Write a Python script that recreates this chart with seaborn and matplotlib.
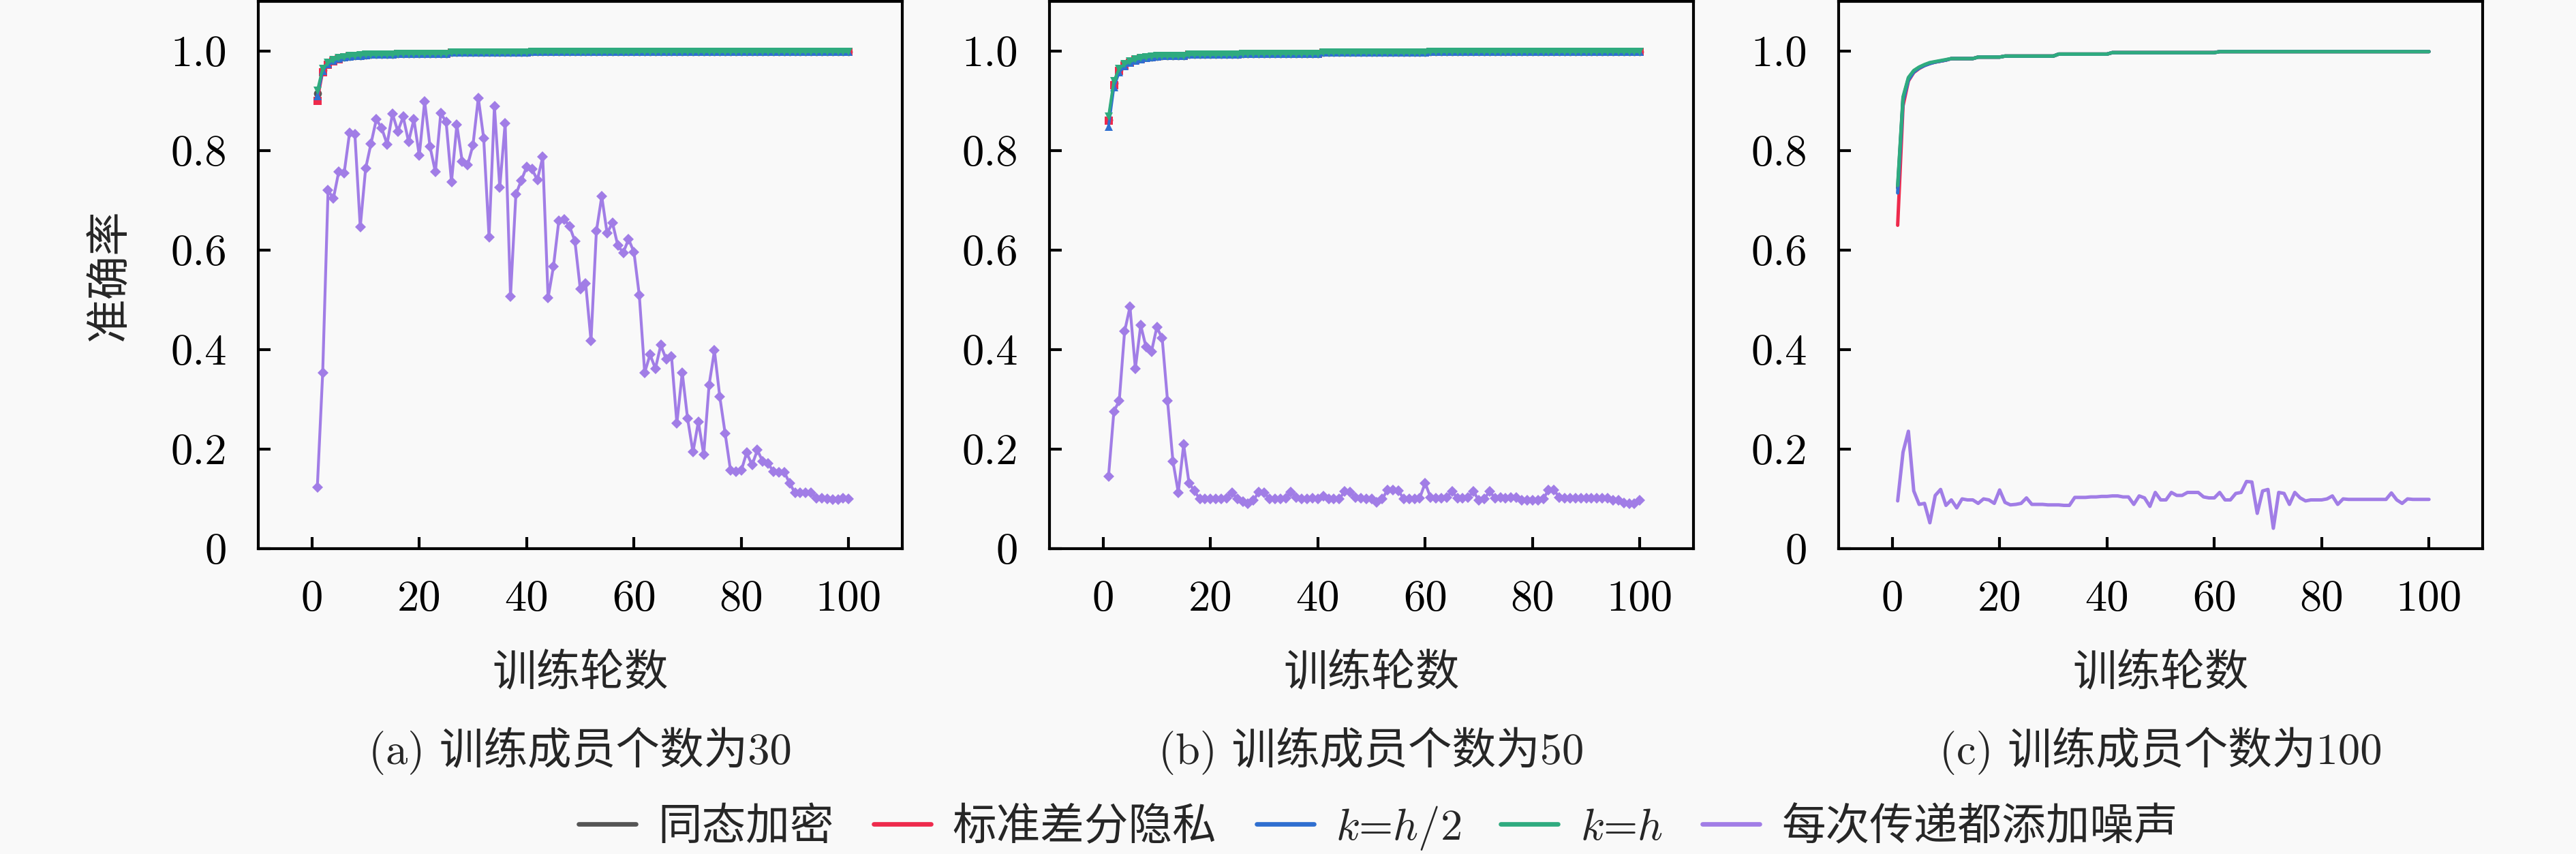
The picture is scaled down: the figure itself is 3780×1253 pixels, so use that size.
import numpy as np
import pandas as pd
import seaborn as sns
import matplotlib.pyplot as plt
from matplotlib.lines import Line2D


epochs = list(range(1, 101))

methods = ["同态加密", "标准差分隐私", r"$k$=$h/2$", r"$k$=$h$", "每次传递都添加噪声"]
colors = ["#555555", "#ee2a4c", "#2f6fd0", "#2fab7f", "#a17de6"]
markers = ["o", "s", "^", "v", "D"]

subtitles = ["(a) 训练成员个数为30", "(b) 训练成员个数为50", "(c) 训练成员个数为100"]
xticks = [0, 20, 40, 60, 80, 100]
yticks = [0, 0.2, 0.4, 0.6, 0.8, 1.0]
ytick_labels = ["0", "0.2", "0.4", "0.6", "0.8", "1.0"]

# 30 members
tail_a = [0.993] * 5 + [0.995] * 10 + [0.997] * 15 + [0.998] * 20 + [0.999] * 40
he_a = [0.915, 0.962, 0.975, 0.981, 0.985, 0.987, 0.989, 0.990, 0.991, 0.992] + tail_a
dp_a = [0.900, 0.958, 0.973, 0.980, 0.984, 0.987, 0.989, 0.990, 0.991, 0.992] + tail_a
kh_a = [0.910, 0.960, 0.974, 0.981, 0.985, 0.987, 0.989, 0.990, 0.991, 0.992] + tail_a
kf_a = [0.920, 0.965, 0.977, 0.982, 0.986, 0.988, 0.990, 0.991, 0.992, 0.993] + tail_a
noise_a = [0.123, 0.353, 0.720, 0.704, 0.758, 0.755, 0.835, 0.833, 0.646, 0.764,
           0.814, 0.863, 0.845, 0.813, 0.874, 0.839, 0.868, 0.818, 0.863, 0.790,
           0.899, 0.808, 0.757, 0.875, 0.858, 0.737, 0.852, 0.778, 0.771, 0.811,
           0.906, 0.825, 0.626, 0.889, 0.726, 0.855, 0.507, 0.712, 0.740, 0.767,
           0.763, 0.741, 0.787, 0.504, 0.567, 0.659, 0.662, 0.648, 0.618, 0.522,
           0.533, 0.418, 0.638, 0.708, 0.634, 0.655, 0.609, 0.595, 0.622, 0.596,
           0.509, 0.354, 0.390, 0.362, 0.409, 0.381, 0.386, 0.252, 0.354, 0.261,
           0.194, 0.255, 0.189, 0.329, 0.398, 0.305, 0.231, 0.157, 0.155, 0.157,
           0.193, 0.168, 0.198, 0.175, 0.171, 0.155, 0.154, 0.154, 0.132, 0.112,
           0.112, 0.112, 0.113, 0.101, 0.101, 0.100, 0.098, 0.099, 0.102, 0.100]

# 50 members
tail_b = [0.990] * 5 + [0.993] * 10 + [0.995] * 15 + [0.997] * 20 + [0.999] * 40
he_b = [0.862, 0.935, 0.962, 0.972, 0.978, 0.982, 0.985, 0.987, 0.988, 0.989] + tail_b
dp_b = [0.860, 0.932, 0.960, 0.971, 0.977, 0.982, 0.985, 0.987, 0.988, 0.989] + tail_b
kh_b = [0.848, 0.928, 0.958, 0.970, 0.977, 0.981, 0.984, 0.986, 0.988, 0.989] + tail_b
kf_b = [0.868, 0.940, 0.965, 0.974, 0.979, 0.983, 0.986, 0.988, 0.989, 0.990] + tail_b
noise_b = [0.145, 0.276, 0.297, 0.437, 0.486, 0.362, 0.449, 0.405, 0.396, 0.445,
           0.423, 0.297, 0.176, 0.113, 0.209, 0.132, 0.116, 0.100, 0.100, 0.100,
           0.100, 0.100, 0.102, 0.113, 0.100, 0.095, 0.090, 0.097, 0.114, 0.113,
           0.100, 0.100, 0.100, 0.102, 0.114, 0.103, 0.100, 0.100, 0.102, 0.100,
           0.105, 0.100, 0.100, 0.100, 0.115, 0.114, 0.103, 0.102, 0.100, 0.100,
           0.093, 0.100, 0.118, 0.118, 0.117, 0.100, 0.100, 0.100, 0.102, 0.132,
           0.103, 0.102, 0.102, 0.103, 0.115, 0.102, 0.102, 0.103, 0.115, 0.097,
           0.100, 0.115, 0.102, 0.103, 0.102, 0.103, 0.103, 0.097, 0.097, 0.097,
           0.097, 0.100, 0.118, 0.118, 0.103, 0.102, 0.102, 0.102, 0.102, 0.102,
           0.102, 0.102, 0.102, 0.102, 0.097, 0.097, 0.092, 0.090, 0.090, 0.097]

# 100 members
tail_c = [0.985] * 5 + [0.988] * 5 + [0.990] * 10 + [0.994] * 10 + [0.997] * 20 + [0.999] * 40
he_c = [0.725, 0.905, 0.945, 0.960, 0.967, 0.972, 0.976, 0.978, 0.980, 0.982] + tail_c
dp_c = [0.650, 0.890, 0.940, 0.957, 0.965, 0.971, 0.975, 0.978, 0.980, 0.982] + tail_c
kh_c = [0.715, 0.900, 0.942, 0.958, 0.966, 0.971, 0.975, 0.978, 0.980, 0.982] + tail_c
kf_c = [0.730, 0.908, 0.947, 0.961, 0.968, 0.973, 0.977, 0.979, 0.981, 0.983] + tail_c
noise_c = [0.096, 0.194, 0.236, 0.116, 0.089, 0.091, 0.052, 0.107, 0.119, 0.087,
           0.098, 0.082, 0.100, 0.098, 0.098, 0.091, 0.100, 0.098, 0.091, 0.118,
           0.093, 0.088, 0.089, 0.091, 0.102, 0.089, 0.089, 0.089, 0.088, 0.088,
           0.088, 0.087, 0.087, 0.103, 0.103, 0.103, 0.104, 0.104, 0.105, 0.105,
           0.106, 0.106, 0.104, 0.104, 0.089, 0.106, 0.102, 0.085, 0.113, 0.098,
           0.098, 0.113, 0.107, 0.107, 0.113, 0.113, 0.113, 0.104, 0.102, 0.102,
           0.113, 0.098, 0.098, 0.111, 0.113, 0.135, 0.134, 0.071, 0.116, 0.119,
           0.041, 0.113, 0.111, 0.089, 0.113, 0.102, 0.096, 0.098, 0.098, 0.098,
           0.100, 0.106, 0.089, 0.100, 0.099, 0.099, 0.099, 0.099, 0.099, 0.099,
           0.099, 0.099, 0.112, 0.098, 0.091, 0.100, 0.099, 0.099, 0.099, 0.099]

panels = [
    [he_a, dp_a, kh_a, kf_a, noise_a],
    [he_b, dp_b, kh_b, kf_b, noise_b],
    [he_c, dp_c, kh_c, kf_c, noise_c],
]
use_markers = [True, True, False]


sns.set_theme(style="ticks")
plt.rcParams["font.family"] = ["cmr10", "Noto Sans CJK SC"]
plt.rcParams["mathtext.fontset"] = "cm"
plt.rcParams["axes.unicode_minus"] = False
bg = "#f9f9f9"

fig = plt.figure(figsize=(12.6, 1253 / 300), dpi=300, facecolor=bg)
lefts = [379 / 3780, 1540 / 3780, 2698 / 3780]
bottom = 1 - 805 / 1253
height = (805 - 2) / 1253

fs = 15.5
for i, series in enumerate(panels):
    ax = fig.add_axes([lefts[i], bottom, 945 / 3780, height])
    ax.set_facecolor(bg)
    df = pd.DataFrame({
        "epoch": epochs * 5,
        "acc": sum(series, []),
        "method": sum([[m] * 100 for m in methods], []),
    })
    for j, m in enumerate(methods):
        sub = df[df["method"] == m]
        kw = dict(marker=markers[j], markersize=2.8, markeredgewidth=0) if use_markers[i] else {}
        sns.lineplot(data=sub, x="epoch", y="acc", ax=ax, color=colors[j],
                     lw=1.0 if use_markers[i] else 1.2, legend=False, **kw)

    ax.set_xlim(-10, 110)
    ax.set_ylim(0, 1.1)
    ax.set_xticks(xticks)
    ax.set_xticklabels([str(t) for t in xticks])
    ax.set_yticks(yticks)
    ax.set_yticklabels(ytick_labels)
    ax.tick_params(direction="in", length=4.2, width=1.0, labelsize=fs, pad=11,
                   color="black", labelcolor="black")
    for s in ax.spines.values():
        s.set_linewidth(1.0)
        s.set_color("black")
    ax.set_xlabel("训练轮数", fontsize=fs, labelpad=12)
    ax.set_ylabel("准确率" if i == 0 else "", fontsize=fs, labelpad=14)
    ax.text(0.5, -0.37, subtitles[i], transform=ax.transAxes, ha="center",
            va="center", fontsize=fs)

handles = [Line2D([], [], color=c, lw=1.6) for c in colors]
fig.legend(handles, methods, loc="center", bbox_to_anchor=(0.535, 1 - 1215 / 1253),
           ncol=5, frameon=False, fontsize=fs, handlelength=1.3, handletextpad=0.5,
           columnspacing=0.9)

fig.savefig("out.png", dpi=300, facecolor=bg)
